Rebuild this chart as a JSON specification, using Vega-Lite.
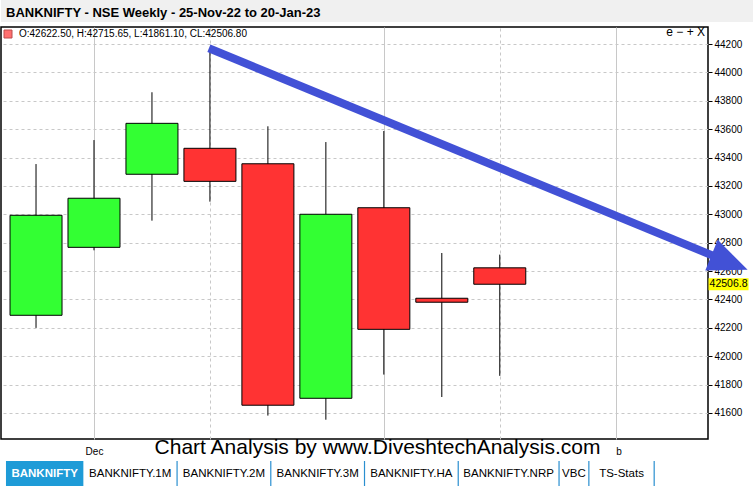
{
  "$schema": "https://vega.github.io/schema/vega-lite/v6.json",
  "padding": 0,
  "background": "white",
  "spacing": 2,
  "config": {"font": "Liberation Sans"},
  "resolve": {"scale": {"fill": "independent"}, "legend": {"fill": "independent"}},
  "vconcat": [
    {
      "width": 753,
      "height": 22,
      "view": {"fill": "#f0f0f0", "stroke": null},
      "title": {
        "text": "BANKNIFTY - NSE Weekly - 25-Nov-22 to 20-Jan-23",
        "anchor": "start",
        "frame": "group",
        "offset": -29.5,
        "dx": 5,
        "baseline": "alphabetic",
        "fontSize": 13,
        "fontWeight": "bold",
        "color": "#000"
      },
      "data": {"values": [{"caption": ""}]},
      "mark": {"type": "text"},
      "encoding": {"text": {"field": "caption"}}
    },
    {
      "width": 707,
      "height": 412,
      "view": {"stroke": "#000", "strokeWidth": 1.5},
      "title": {
        "text": "e − + X",
        "anchor": "end",
        "frame": "group",
        "offset": -20.5,
        "dx": -3,
        "baseline": "alphabetic",
        "fontSize": 12,
        "fontWeight": "normal",
        "color": "#000"
      },
      "data": {
        "values": [
          {"date": "2022-11-25", "open": 42288, "high": 43354, "low": 42199, "close": 42993},
          {"date": "2022-12-02", "open": 42767, "high": 43523, "low": 42746, "close": 43113},
          {"date": "2022-12-09", "open": 43282, "high": 43860, "low": 42955, "close": 43641},
          {"date": "2022-12-16", "open": 43465, "high": 44151, "low": 43089, "close": 43232},
          {"date": "2022-12-23", "open": 43356, "high": 43620, "low": 41581, "close": 41654},
          {"date": "2022-12-30", "open": 41703, "high": 43509, "low": 41552, "close": 43000},
          {"date": "2023-01-06", "open": 43046, "high": 43587, "low": 41870, "close": 42189},
          {"date": "2023-01-13", "open": 42408, "high": 42727, "low": 41712, "close": 42380},
          {"date": "2023-01-20", "open": 42622.5, "high": 42715.65, "low": 41861.1, "close": 42506.8}
        ]
      },
      "resolve": {"axis": {"x": "independent", "y": "independent"}},
      "layer": [
        {
          "mark": {"type": "rule", "color": "#000", "strokeWidth": 1},
          "encoding": {
            "x": {
              "field": "date",
              "type": "temporal",
              "scale": {
                "type": "utc",
                "domain": [
                  {"year": 2022, "month": 11, "date": 21, "hours": 9, "utc": true},
                  {"year": 2023, "month": 2, "date": 13, "hours": 13, "utc": true}
                ]
              },
              "axis": {
                "values": [
                  {"year": 2022, "month": 12, "date": 2, "utc": true},
                  {"year": 2023, "month": 1, "date": 6, "utc": true},
                  {"year": 2023, "month": 2, "date": 3, "utc": true}
                ],
                "labelExpr": "utcmonth(datum.value) == 11 ? 'Dec' : (utcmonth(datum.value) == 1 ? 'b' : '')",
                "labelAlign": {"condition": {"test": "utcmonth(datum.value) == 1", "value": "left"}, "value": "center"},
                "labelFontSize": 10,
                "labelColor": "#000",
                "labelPadding": 7,
                "labelOverlap": false,
                "ticks": false,
                "domain": false,
                "grid": true,
                "gridColor": "#c8c8c8",
                "gridWidth": 1,
                "title": "Chart Analysis by www.DiveshtechAnalysis.com",
                "titleFontSize": 21,
                "titleFontWeight": "normal",
                "titleColor": "#000",
                "titleX": 376,
                "titleY": 14,
                "titleAlign": "center",
                "titleBaseline": "alphabetic"
              }
            },
            "y": {
              "field": "low",
              "type": "quantitative",
              "scale": {"domain": [41416, 44320], "nice": false, "zero": false},
              "axis": {
                "orient": "right",
                "values": [41600, 41800, 42000, 42200, 42400, 42600, 42800, 43000, 43200, 43400, 43600, 43800, 44000, 44200],
                "format": "d",
                "title": null,
                "domain": false,
                "tickSize": 4,
                "tickColor": "#000",
                "labelPadding": 2,
                "labelFontSize": 10,
                "labelColor": "#000",
                "labelOverlap": false,
                "grid": true,
                "gridDash": [3, 3],
                "gridColor": "#c8c8c8"
              }
            },
            "y2": {"field": "high"}
          }
        },
        {
          "transform": [
            {"filter": "datum.close == 42506.8"},
            {"calculate": "'O:' + format(datum.open, '.2f') + ', H:' + format(datum.high, '.2f') + ', L:' + format(datum.low, '.2f') + ', CL:' + format(datum.close, '.2f')", "as": "ohlc"},
            {"calculate": "(datum.open + datum.close) / 2", "as": "mid"}
          ],
          "mark": {"type": "square", "size": 30},
          "encoding": {
            "x": {"field": "date", "type": "temporal", "axis": null},
            "y": {"field": "mid", "type": "quantitative", "axis": null},
            "fill": {
              "field": "ohlc",
              "type": "nominal",
              "scale": {"range": ["#ff3333"]},
              "legend": {
                "orient": "top-left",
                "title": null,
                "offset": 2,
                "padding": 0,
                "symbolType": "square",
                "symbolSize": 64,
                "symbolStrokeColor": "#a00000",
                "symbolStrokeWidth": 1,
                "labelFontSize": 10,
                "labelColor": "#000",
                "labelOffset": 6,
                "labelLimit": 400
              }
            }
          }
        },
        {
          "mark": {"type": "bar", "size": 52, "stroke": "#000", "strokeWidth": 1},
          "encoding": {
            "x": {
              "field": "date",
              "type": "temporal",
              "axis": {
                "orient": "top",
                "values": [
                  {"year": 2022, "month": 12, "date": 16, "utc": true},
                  {"year": 2023, "month": 1, "date": 20, "utc": true}
                ],
                "grid": true,
                "gridDash": [3, 3],
                "gridColor": "#c8c8c8",
                "labels": false,
                "ticks": false,
                "domain": false,
                "title": null
              }
            },
            "y": {"field": "open", "type": "quantitative", "axis": null},
            "y2": {"field": "close"},
            "color": {"condition": {"test": "datum.close >= datum.open", "value": "#33ff33"}, "value": "#ff3333"}
          }
        },
        {
          "data": {"values": [{"note": "trend"}]},
          "mark": {"type": "rule", "color": "#4251d6", "strokeWidth": 8, "strokeCap": "butt"},
          "encoding": {
            "x": {"datum": {"year": 2022, "month": 12, "date": 15, "hours": 21, "utc": true}, "type": "temporal", "axis": null},
            "y": {"datum": 44170, "type": "quantitative", "axis": null},
            "x2": {"datum": {"year": 2023, "month": 2, "date": 16, "hours": 18, "utc": true}},
            "y2": {"datum": 42660}
          }
        },
        {
          "data": {"values": [{"note": "trend"}]},
          "mark": {"type": "point", "shape": "M1,0L-1,-0.85L-1,0.85Z", "size": 1521, "angle": 22, "filled": true, "color": "#4251d6", "opacity": 1},
          "encoding": {
            "x": {"datum": {"year": 2023, "month": 2, "date": 16, "hours": 18, "utc": true}, "type": "temporal", "axis": null},
            "y": {"datum": 42660, "type": "quantitative", "axis": null}
          }
        },
        {
          "transform": [{"filter": "datum.close == 42506.8"}],
          "mark": {"type": "point", "shape": "M-1,-0.3L1,-0.3L1,0.3L-1,0.3Z", "size": 1600, "filled": true, "color": "#ffff00", "opacity": 1},
          "encoding": {
            "x": {"datum": {"year": 2023, "month": 2, "date": 16, "hours": 15, "utc": true}, "type": "temporal", "axis": null},
            "y": {"field": "close", "type": "quantitative", "axis": null}
          }
        },
        {
          "transform": [{"filter": "datum.close == 42506.8"}],
          "mark": {"type": "text", "fontSize": 10.5, "align": "center", "baseline": "middle", "color": "#000"},
          "encoding": {
            "x": {"datum": {"year": 2023, "month": 2, "date": 16, "hours": 15, "utc": true}, "type": "temporal", "axis": null},
            "y": {"field": "close", "type": "quantitative", "axis": null},
            "text": {"field": "close", "type": "quantitative", "format": ".1f"}
          }
        }
      ]
    },
    {
      "width": 753,
      "height": 26,
      "view": {"stroke": null},
      "data": {
        "values": [
          {"tab": "BANKNIFTY", "order": 1},
          {"tab": "BANKNIFTY.1M", "order": 2},
          {"tab": "BANKNIFTY.2M", "order": 3},
          {"tab": "BANKNIFTY.3M", "order": 4},
          {"tab": "BANKNIFTY.HA", "order": 5},
          {"tab": "BANKNIFTY.NRP", "order": 6},
          {"tab": "VBC", "order": 7},
          {"tab": "TS-Stats", "order": 8}
        ]
      },
      "transform": [
        {"calculate": "datum.order == 1 ? length(datum.tab) + 1.9 : length(datum.tab) + 1.2", "as": "w"},
        {"window": [{"op": "sum", "field": "w", "as": "end"}], "sort": [{"field": "order"}], "frame": [null, 0]},
        {"calculate": "datum.end - datum.w", "as": "start"},
        {"calculate": "(datum.start + datum.end) / 2", "as": "mid"}
      ],
      "layer": [
        {
          "transform": [{"filter": "datum.order == 1"}],
          "mark": {"type": "rect", "color": "#1e9bd7"},
          "encoding": {
            "x": {"field": "start", "type": "quantitative", "scale": {"domain": [-0.7, 105.36], "nice": false, "zero": false}, "axis": null},
            "x2": {"field": "end"}
          }
        },
        {
          "transform": [{"filter": "datum.order > 1"}],
          "mark": {"type": "rule", "color": "#2a8fd0", "strokeWidth": 1.2},
          "encoding": {
            "x": {"field": "end", "type": "quantitative", "axis": null}
          }
        },
        {
          "transform": [{"filter": "datum.order == 1"}],
          "mark": {"type": "text", "fontSize": 11.5, "fontWeight": "bold", "color": "#fff", "baseline": "middle"},
          "encoding": {
            "x": {"field": "mid", "type": "quantitative", "axis": null},
            "text": {"field": "tab"}
          }
        },
        {
          "transform": [{"filter": "datum.order > 1"}],
          "mark": {"type": "text", "fontSize": 11.5, "color": "#000", "baseline": "middle"},
          "encoding": {
            "x": {"field": "mid", "type": "quantitative", "axis": null},
            "text": {"field": "tab"}
          }
        }
      ]
    }
  ]
}
